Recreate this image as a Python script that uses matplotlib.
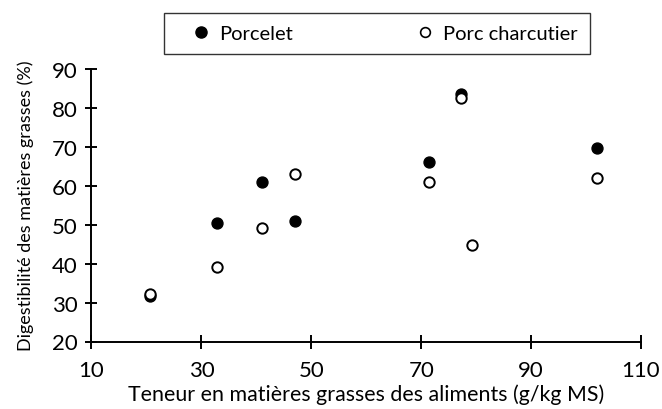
import matplotlib
matplotlib.use("Agg")
import matplotlib.pyplot as plt
from matplotlib.lines import Line2D

# Data
x_porcelet = [20.6, 32.8, 41.0, 47.0, 71.4, 77.3, 102.0]
y_porcelet = [31.6, 50.4, 60.9, 51.0, 66.1, 83.5, 69.8]
x_charcutier = [20.6, 32.9, 41.0, 47.0, 71.4, 77.3, 79.3, 102.0]
y_charcutier = [32.3, 39.1, 49.1, 63.0, 60.9, 82.6, 44.7, 62.1]
x_ticks = [10, 30, 50, 70, 90, 110]
y_ticks = [20, 30, 40, 50, 60, 70, 80, 90]
labels = ['Porcelet', 'Porc charcutier']

plt.rcParams['font.family'] = ['Lato', 'DejaVu Sans']

fig = plt.figure(figsize=(6.62, 4.10), dpi=100)
ax = fig.add_axes([91.5/662, 1-342.5/410, (641-91.5)/662, (342.5-70)/410])

ax.scatter(x_porcelet, y_porcelet, s=62, facecolor='black', edgecolor='black', linewidth=1.0, zorder=3, clip_on=False)
ax.scatter(x_charcutier, y_charcutier, s=56, facecolor='white', edgecolor='black', linewidth=1.4, zorder=4, clip_on=False)

ax.set_xlim(10, 110)
ax.set_ylim(20, 90)
ax.set_xticks(x_ticks)
ax.set_yticks(y_ticks)
for s in ['top', 'right']:
    ax.spines[s].set_visible(False)
for s in ['left', 'bottom']:
    ax.spines[s].set_linewidth(1.4)
ax.tick_params(axis='x', direction='inout', length=10, width=1.4, labelsize=16, pad=8)
ax.tick_params(axis='y', direction='inout', length=8, width=1.4, labelsize=16, pad=6)
ax.set_xlabel('Teneur en matières grasses des aliments (g/kg MS)', fontsize=15.4, labelpad=3)
ax.set_ylabel('Digestibilité des matières grasses (%)', fontsize=13, labelpad=13)

handles = [
    Line2D([], [], linestyle='none', marker='o', markersize=8, markerfacecolor='black', markeredgecolor='black'),
    Line2D([], [], linestyle='none', marker='o', markersize=7, markerfacecolor='white', markeredgecolor='black', markeredgewidth=1.2),
]
leg = fig.legend(handles, labels, loc='upper left', bbox_to_anchor=(164/662, 1-14/410),
                 ncol=2, frameon=True, fancybox=False, edgecolor='black', fontsize=14.5,
                 columnspacing=5.3, handletextpad=-0.35, handlelength=2.5, borderpad=0.6,
                 borderaxespad=0)
leg.get_frame().set_linewidth(1.0)

fig.savefig('out.png', dpi=100)
